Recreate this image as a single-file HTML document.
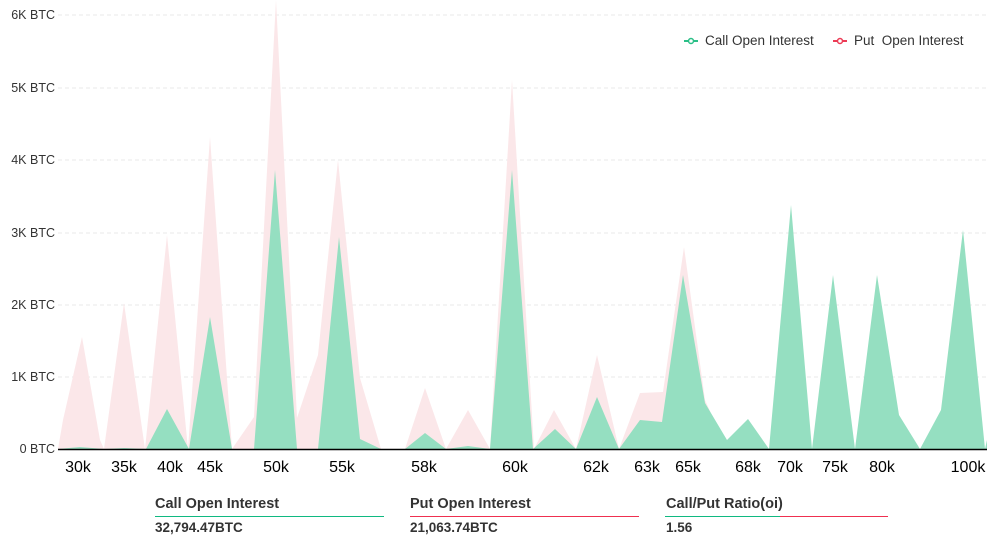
<!DOCTYPE html>
<html><head><meta charset="utf-8"><style>
body{margin:0;background:#fff;width:1006px;height:545px;overflow:hidden;font-family:"Liberation Sans",sans-serif}
svg{position:absolute;left:0;top:0}
</style></head><body>
<svg width="1006" height="545" viewBox="0 0 1006 545">
<g stroke="#e8e8e8" stroke-dasharray="4,3" stroke-width="1">
<line x1="58" x2="987" y1="15" y2="15"/><line x1="58" x2="987" y1="88" y2="88"/>
<line x1="58" x2="987" y1="160" y2="160"/><line x1="58" x2="987" y1="233" y2="233"/>
<line x1="58" x2="987" y1="305" y2="305"/><line x1="58" x2="987" y1="377" y2="377"/>
</g>
<g font-size="12.5" fill="#333" text-anchor="end">
<text x="55" y="19">6K BTC</text><text x="55" y="92">5K BTC</text><text x="55" y="164">4K BTC</text>
<text x="55" y="237">3K BTC</text><text x="55" y="309">2K BTC</text><text x="55" y="381">1K BTC</text><text x="55" y="453">0 BTC</text>
</g>
<polygon fill="#fbe7e9" points="58,449 63,420 82,337 100,440 104,449 124,303 145,449 167,235 188,449 210,137 232,449 254,417 276,0 297,418 318,355 338,160 360,378 381,449 405,449 425,388 446,449 468,410 490,449 512,80 534,449 554,410 576,449 597,355 619,449 640,393 663,392 684,247 705,400 727,449"/>
<polygon fill="#95dfc1" points="58,449 80,447 104,449 124,448 146,449 167,409 189,449 210,317 232,449 254,449 275,170 297,449 318,449 339,237 360,439 381,449 405,449 425,433 446,449 468,446 490,449 512,170 533,449 555,429 576,449 597,397 619,449 640,420 662,422 683,275 705,403 727,440 748,419 769,449 791,205 812,449 833,275 855,449 877,275 899,415 920,449 941,410 963,230 985,449 987,440 987,449"/>
<line x1="58" x2="987" y1="449.5" y2="449.5" stroke="#000" stroke-width="1.5"/>
<g font-size="16" fill="#000" text-anchor="middle">
<text x="78" y="472">30k</text><text x="124" y="472">35k</text><text x="170" y="472">40k</text><text x="210" y="472">45k</text>
<text x="276" y="472">50k</text><text x="342" y="472">55k</text><text x="424" y="472">58k</text><text x="515" y="472">60k</text>
<text x="596" y="472">62k</text><text x="647" y="472">63k</text><text x="688" y="472">65k</text><text x="748" y="472">68k</text>
<text x="790" y="472">70k</text><text x="835" y="472">75k</text><text x="882" y="472">80k</text><text x="968" y="472">100k</text>
</g>
<g font-size="13.5" fill="#333">
<line x1="684" x2="698" y1="41" y2="41" stroke="#2bbf87" stroke-width="2"/><circle cx="691" cy="41" r="2.5" fill="#fff" stroke="#2bbf87" stroke-width="1.5"/>
<text x="705" y="45">Call Open Interest</text>
<line x1="833" x2="847" y1="41" y2="41" stroke="#ec3b55" stroke-width="2"/><circle cx="840" cy="41" r="2.5" fill="#fff" stroke="#ec3b55" stroke-width="1.5"/>
<text x="854" y="45" xml:space="preserve">Put  Open Interest</text>
</g>
<g font-size="14.5" font-weight="bold" fill="#333">
<text x="155" y="508">Call Open Interest</text><text x="155" y="532" font-size="13.5">32,794.47BTC</text>
<text x="410" y="508">Put Open Interest</text><text x="410" y="532" font-size="13.5">21,063.74BTC</text>
<text x="666" y="508">Call/Put Ratio(oi)</text><text x="666" y="532" font-size="13.5">1.56</text>
</g>
<line x1="155" x2="384" y1="516.5" y2="516.5" stroke="#10b981" stroke-width="1"/>
<line x1="410" x2="639" y1="516.5" y2="516.5" stroke="#ef3050" stroke-width="1"/>
<line x1="665" x2="780" y1="516.5" y2="516.5" stroke="#10b981" stroke-width="1"/>
<line x1="780" x2="888" y1="516.5" y2="516.5" stroke="#ef3050" stroke-width="1"/>
</svg>
</body></html>
